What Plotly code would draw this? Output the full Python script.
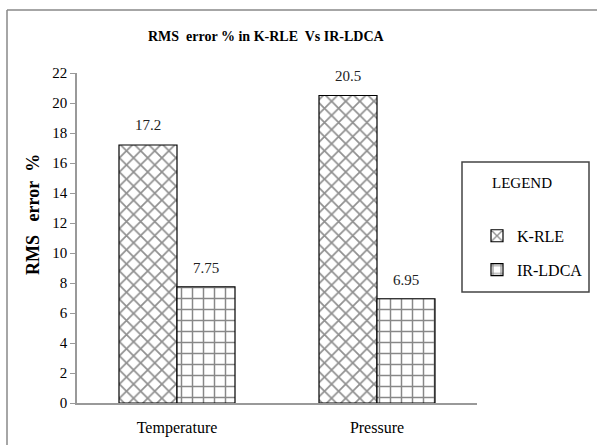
import plotly.graph_objects as go

categories = ["Temperature", "Pressure"]
krle = [17.2, 20.5]
irldca = [7.75, 6.95]
krle_labels = ["17.2", "20.5"]
irldca_labels = ["7.75", "6.95"]
series_names = ["K-RLE", "IR-LDCA"]
y_ticks = list(range(0, 23, 2))

SERIF = "Liberation Serif"

fig = go.Figure()
fig.add_trace(go.Bar(
    x=categories, y=krle, name=series_names[0], legendgroup="a",
    marker=dict(color="white", line=dict(color="black", width=1.2),
                pattern=dict(shape="x", fgcolor="#222", bgcolor="white", size=10, solidity=0.32)),
))
fig.add_trace(go.Bar(
    x=categories, y=irldca, name=series_names[1], legendgroup="b",
    marker=dict(color="white", line=dict(color="black", width=1.2),
                pattern=dict(shape="+", fgcolor="#111", bgcolor="white", size=11, solidity=0.25)),
))

annotations = []
for i, c in enumerate(categories):
    annotations.append(dict(x=c, y=krle[i], xref="x", yref="y", text=krle_labels[i],
                            showarrow=False, xshift=-29, yshift=20,
                            font=dict(family=SERIF, size=15, color="#222")))
    annotations.append(dict(x=c, y=irldca[i], xref="x", yref="y", text=irldca_labels[i],
                            showarrow=False, xshift=29, yshift=19,
                            font=dict(family=SERIF, size=15, color="#222")))

annotations.append(dict(text="<b>RMS&nbsp;&nbsp; error&nbsp;&nbsp;%</b>", xref="paper", yref="paper",
                        x=-0.11, y=0.57, textangle=-90, showarrow=False, xanchor="center",
                        yanchor="middle",
                        font=dict(family=SERIF, size=18, color="black")))
annotations.append(dict(text="<b>RMS  error % in K-RLE  Vs IR-LDCA</b>", xref="paper", yref="paper",
                        x=0.4725, y=1.112, showarrow=False, xanchor="center", yanchor="middle",
                        font=dict(family=SERIF, size=14, color="black")))
annotations.append(dict(text="LEGEND", xref="paper", yref="paper",
                        x=1.1125, y=0.667, showarrow=False, xanchor="center", yanchor="middle",
                        font=dict(family=SERIF, size=15, color="black")))

shapes = [
    dict(type="line", xref="paper", yref="paper", x0=-0.175, x1=1.3, y0=1.191, y1=1.191,
         line=dict(color="#888", width=1.5)),
    dict(type="line", xref="paper", yref="paper", x0=-0.175, x1=-0.175, y0=1.191, y1=-0.15,
         line=dict(color="#888", width=1.5)),
    dict(type="rect", xref="paper", yref="paper", x0=0.9625, x1=1.28, y0=0.730, y1=0.336,
         line=dict(color="#444", width=1.5), fillcolor="rgba(0,0,0,0)"),
]

fig.update_layout(
    width=597, height=445,
    margin=dict(l=77, r=120, t=73, b=42, autoexpand=False),
    paper_bgcolor="white", plot_bgcolor="white",
    barmode="group", bargap=0.42, bargroupgap=0,
    showlegend=True,
    legend=dict(x=1.0, y=0.558, xanchor="left", yanchor="top",
                font=dict(family=SERIF, size=16, color="black"),
                bgcolor="rgba(0,0,0,0)", tracegroupgap=10, itemwidth=30,
                traceorder="grouped"),
    annotations=annotations, shapes=shapes,
    xaxis=dict(showline=True, linecolor="#999", linewidth=1.5, ticks="",
               ticklabelstandoff=9,
               tickfont=dict(family=SERIF, size=16, color="black"), showgrid=False),
    yaxis=dict(range=[0, 22], tickvals=y_ticks, showline=True, linecolor="#999", linewidth=1.5,
               ticks="outside", ticklen=5, tickcolor="#999", showgrid=False,
               tickfont=dict(family=SERIF, size=15, color="black"), zeroline=False),
)

fig.write_html("out.html")
